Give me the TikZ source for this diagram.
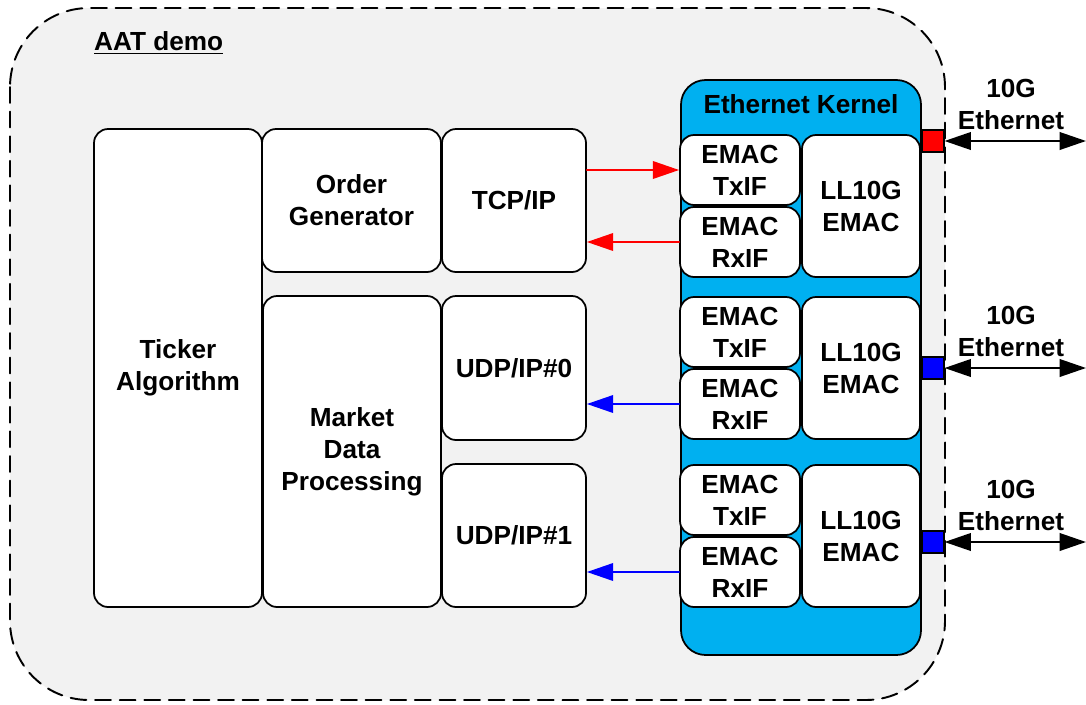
\documentclass[tikz,border=0pt]{standalone}
\usepackage{fontspec}
\setmainfont{Liberation Sans}
\usetikzlibrary{arrows.meta}

\begin{document}
\begin{tikzpicture}[x=0.02cm, y=-0.02cm, line cap=round, line join=round,
  font=\bfseries\fontsize{14.9}{18.2}\selectfont]

% Colors
\definecolor{bggray}{RGB}{242,242,242}
\definecolor{kernelblue}{RGB}{0,176,240}

\tikzset{
  boxsize/.style 2 args={minimum width=#1*0.02cm, minimum height=#2*0.02cm},
  blk/.style={draw, line width=1pt, fill=white, rounded corners=8pt, inner sep=0pt, align=center},
  portbox/.style={draw, line width=0.6pt, inner sep=0pt, boxsize={22}{22}},
  txarrow/.style={red, line width=1.1pt, -{Triangle[length=15pt, width=10pt]}},
  rxarrow/.style={blue, line width=1.1pt, -{Triangle[length=15pt, width=10pt]}},
  link/.style={line width=1.1pt, {Triangle[length=15pt, width=10pt]}-{Triangle[length=15pt, width=10pt]}}
}

\useasboundingbox (0,0) rectangle (1086,704);

% Outer frame
\draw[fill=bggray, line width=1.1pt, dash pattern=on 9pt off 5pt, rounded corners=45pt] (10,8) rectangle (945,700);
\node[anchor=west] (title) at (88,43) {\underline{AAT demo}};

% Application blocks
\node[blk, boxsize={168}{478}] (ticker) at (178,368) {Ticker\\Algorithm};
\node[blk, boxsize={179}{143}] (order) at (351.5,200.5) {Order\\Generator};
\node[blk, boxsize={144}{143}] (tcp) at (514,200.5) {TCP/IP};
\node[blk, boxsize={178}{311}] (market) at (352,451.5) {Market\\Data\\Processing};
\node[blk, boxsize={144}{144}] (udp0) at (514,368) {UDP/IP\#0};
\node[blk, boxsize={144}{143}] (udp1) at (514,535.5) {UDP/IP\#1};

% Ethernet kernel
\node[draw, line width=1pt, fill=kernelblue, rounded corners=14pt, boxsize={240}{575}] (kernel) at (801,367.5) {};
\node (kernelname) at (801,104) {Ethernet Kernel};

\foreach \n/\y/\py/\pc in {1/135/141/red, 2/297/368/blue, 3/465/542/blue} {
  \node[blk, boxsize={120}{70}] (tx\n) at (740,\y+35) {EMAC\\TxIF};
  \node[blk, boxsize={120}{70}] (rx\n) at (740,\y+107) {EMAC\\RxIF};
  \node[blk, boxsize={118}{142}] (ll\n) at (861,\y+71) {LL10G\\EMAC};
  % port and 10G link
  \node[portbox, fill=\pc] (port\n) at (933,\py) {};
  \coordinate (linkend\n) at (1086,\py);
  \draw[link] (port\n.east) -- (linkend\n);
  \node[align=center] (eth\n) at (1011,\py-37) {10G\\Ethernet};
}

% Data paths
\draw[txarrow] (tcp.east |- tx1) -- (tx1.west);
\draw[txarrow] (rx1.west) -- (tcp.east |- rx1);
\draw[rxarrow] (rx2.west) -- (udp0.east |- rx2);
\draw[rxarrow] (rx3.west) -- (udp1.east |- rx3);

\end{tikzpicture}
\end{document}
